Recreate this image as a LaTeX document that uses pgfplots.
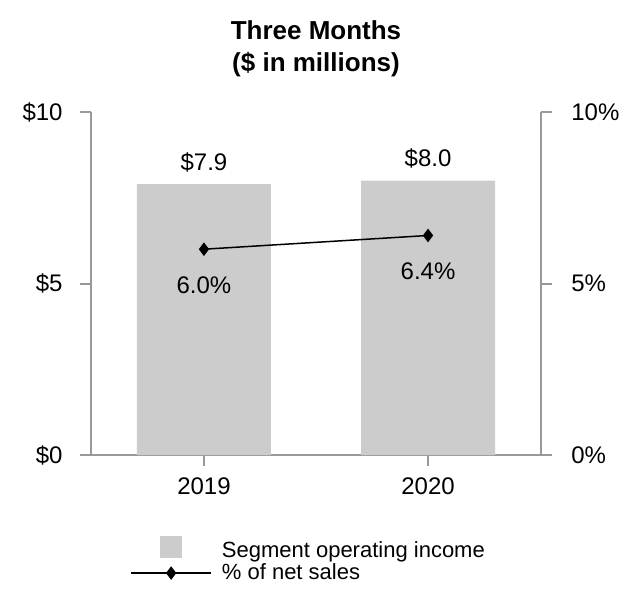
\documentclass[border=0pt]{standalone}
\usepackage{pgfplots}
\pgfplotsset{compat=1.18}
\usepackage{fontspec}
\setmainfont{Liberation Sans}
\definecolor{barc}{HTML}{CCCCCC}
\definecolor{axc}{HTML}{999999}
\begin{document}
\begin{tikzpicture}
\useasboundingbox (-45.5bp,-78.5bp) rectangle (274.5bp,227.5bp);
\pgfplotsset{
  /pgf/number format/assume math mode=true,
  common/.style={
    width=225bp, height=171.5bp, scale only axis,
    at={(0,0)}, anchor=south west,
    xmin=-0.504, xmax=1.504, ymin=0, ymax=10,
    ytick={0,5,10},
    tick align=outside, major tick length=5.5bp,
    every tick/.style={axc, line width=1bp},
    axis line style={axc, line width=1bp},
    ticklabel style={font=\fontsize{12bp}{14bp}\selectfont, inner sep=0pt},
    clip=false,
  },
}
\begin{axis}[common,
  axis x line*=bottom, axis y line*=left,
  xtick={0,1}, xticklabels={2019,2020},
  yticklabels={\$0,\$5,\$10},
  yticklabel style={xshift=-8.5bp},
  xticklabel style={yshift=-5.5bp},
  title={Three Months\\(\$ in millions)},
  title style={at={(0.5,1)}, anchor=south, yshift=11.5bp, inner sep=0pt, align=center, font=\bfseries\fontsize{13bp}{16bp}\selectfont},
  ybar, bar width=67bp,
  nodes near coords={\$\pgfmathprintnumber[fixed,fixed zerofill,precision=1]{\pgfplotspointmeta}},
  every node near coord/.append style={anchor=base, yshift=7bp, inner sep=0pt, font=\fontsize{12bp}{14bp}\selectfont, black},
]
\addplot[fill=barc, draw=none] coordinates {(0,7.9) (1,8.0)};
\end{axis}
\begin{axis}[common,
  axis x line=none, axis y line*=right,
  yticklabels={0\%,5\%,10\%},
  yticklabel style={xshift=9.5bp},
  legend style={at={(0.0867,-0.236)}, anchor=north west, draw=none, fill=none, inner sep=0pt, row sep=1.5bp,
    nodes={inner ysep=0pt, inner xsep=5bp, anchor=west}, font=\fontsize{11bp}{13bp}\selectfont},
]
\addlegendimage{legend image code/.code={\path[draw=none,fill=none] (0,0) -- (40bp,0); \fill[barc, draw=none] (14.6bp,-3.4bp) rectangle (25.4bp,7.4bp);}}
\addlegendentry{Segment operating income}
\addplot[black, line width=0.75bp, mark=diamond*, mark size=2.8bp, mark options={solid, fill=black},
  legend image code/.code={\draw[black, line width=0.75bp] (0,0) -- (40bp,0); \fill[black] (20bp,0) +(0,2.8bp) -- +(2.1bp,0) -- +(0,-2.8bp) -- +(-2.1bp,0) -- cycle;},
  nodes near coords={\pgfmathprintnumber[fixed,fixed zerofill,precision=1]{\pgfplotspointmeta}\%},
  every node near coord/.append style={anchor=base, yshift=-22bp, inner sep=0pt, font=\fontsize{12bp}{14bp}\selectfont, black},
] coordinates {(0,6.0) (1,6.4)};
\addlegendentry{\% of net sales}
\end{axis}
\end{tikzpicture}
\end{document}
